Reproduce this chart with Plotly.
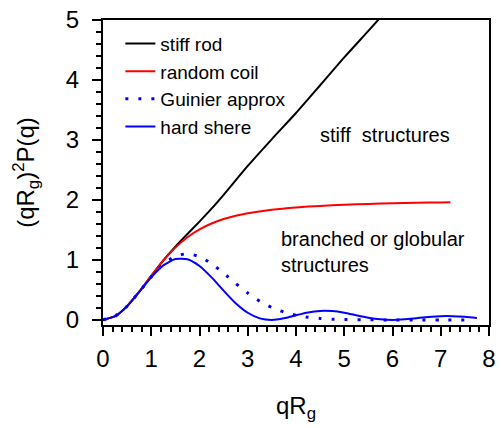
import plotly.graph_objects as go

# ---- data (Kratky representation) ----
x_rod = [0, 0.25, 0.5, 0.75, 1.0, 1.25, 1.5, 1.75, 2.0, 2.25, 2.5, 3.0, 3.5, 4.0, 4.5, 5.0, 5.5, 6.0]
y_rod = [0, 0.061, 0.230, 0.470, 0.736, 0.993, 1.223, 1.433, 1.639, 1.854, 2.085, 2.567, 3.015, 3.450, 3.912, 4.377, 4.819, 5.267]

x_coil = [0, 0.25, 0.5, 0.75, 1.0, 1.25, 1.5, 1.75, 2.0, 2.25, 2.5, 2.75, 3.0, 3.5, 4.0, 4.5, 5.0, 5.5, 6.0, 6.5, 7.0, 7.2]
y_coil = [0, 0.061, 0.230, 0.470, 0.736, 0.988, 1.205, 1.378, 1.509, 1.607, 1.681, 1.736, 1.778, 1.837, 1.875, 1.901, 1.920, 1.934, 1.944, 1.953, 1.959, 1.961]

x_guin = [0, 0.25, 0.5, 0.75, 1.0, 1.25, 1.5, 1.75, 2.0, 2.25, 2.5, 2.75, 3.0, 3.25, 3.5, 3.75, 4.0, 4.25, 4.5, 4.75, 5.0, 5.5, 6.0, 6.5, 7.0, 7.55]
y_guin = [0, 0.061, 0.230, 0.466, 0.717, 0.928, 1.063, 1.103, 1.054, 0.937, 0.778, 0.608, 0.448, 0.312, 0.206, 0.130, 0.077, 0.044, 0.024, 0.012, 0.006, 0.001, 0.0, 0.0, 0.0, 0.0]

x_sph = [0, 0.25, 0.5, 0.75, 1.0, 1.25, 1.5, 1.75, 2.0, 2.25, 2.5, 2.75, 3.0, 3.25, 3.5, 3.75, 4.0, 4.25, 4.5, 4.75,
         5.0, 5.25, 5.5, 5.75, 6.0, 6.25, 6.5, 6.75, 7.0, 7.25, 7.5, 7.75]
y_sph = [0, 0.061, 0.229, 0.464, 0.710, 0.909, 1.016, 1.010, 0.898, 0.709, 0.488, 0.278, 0.119, 0.025, 0.000, 0.026,
         0.077, 0.124, 0.150, 0.147, 0.119, 0.077, 0.036, 0.009, 0.000, 0.009, 0.029, 0.049, 0.062, 0.062, 0.051, 0.033]

names = ["stiff rod", "random coil", "Guinier approx", "hard shere"]
x_ticks = [0, 1, 2, 3, 4, 5, 6, 7, 8]
y_ticks = [0, 1, 2, 3, 4, 5]

FONT = "Liberation Sans, Arial, sans-serif"

fig = go.Figure()
fig.add_trace(go.Scatter(x=x_rod, y=y_rod, mode="lines", name=names[0],
                         line=dict(color="black", width=2, shape="spline", smoothing=0.6)))
fig.add_trace(go.Scatter(x=x_coil, y=y_coil, mode="lines", name=names[1],
                         line=dict(color="#ff0000", width=2, shape="spline", smoothing=0.6)))
fig.add_trace(go.Scatter(x=x_guin, y=y_guin, mode="lines", name=names[2],
                         line=dict(color="#0000ff", width=3, dash="3px,10px", shape="spline", smoothing=0.6)))
fig.add_trace(go.Scatter(x=x_sph, y=y_sph, mode="lines", name=names[3],
                         line=dict(color="#0000ff", width=2, shape="spline", smoothing=0.6)))

axis_common = dict(
    showgrid=False, zeroline=False, showline=True, linewidth=2, linecolor="black", mirror=True,
    ticks="outside", ticklen=9, tickwidth=2, tickcolor="black",
    tickfont=dict(family=FONT, size=24, color="black"),
    title_font=dict(family=FONT, size=24, color="black"),
)

fig.update_layout(
    width=502, height=428,
    margin=dict(l=103, r=6, t=20, b=103),
    paper_bgcolor="white", plot_bgcolor="white",
    font=dict(family=FONT, color="black"),
    xaxis=dict(range=[0, 8], tickmode="array", tickvals=x_ticks, ticklabelstandoff=2,
               minor=dict(dtick=0.2, ticks="outside", ticklen=5, tickwidth=1.5, tickcolor="black"),
               title=dict(text="qR<sub>g</sub>", standoff=26), **axis_common),
    yaxis=dict(range=[-0.085, 5], tickmode="array", tickvals=y_ticks, ticklabelstandoff=8,
               minor=dict(dtick=0.2, tick0=0, ticks="outside", ticklen=5, tickwidth=1.5, tickcolor="black"),
               title=dict(text="(qR<sub>g</sub>)<sup>2</sup>P(q)", standoff=24), **axis_common),
    showlegend=True,
    legend=dict(x=0.045, y=0.985, xanchor="left", yanchor="top", bgcolor="rgba(0,0,0,0)",
                font=dict(family=FONT, size=19, color="black"), tracegroupgap=0),
    annotations=[
        dict(x=4.45, y=3.08, xref="x", yref="y", text="stiff  structures", showarrow=False,
             xanchor="left", yanchor="middle", font=dict(family=FONT, size=20, color="black")),
        dict(x=3.64, y=1.125, xref="x", yref="y", text="branched or globular<br>structures", showarrow=False,
             xanchor="left", yanchor="middle", align="left", font=dict(family=FONT, size=20, color="black")),
    ],
)

fig.write_html("out.html")
